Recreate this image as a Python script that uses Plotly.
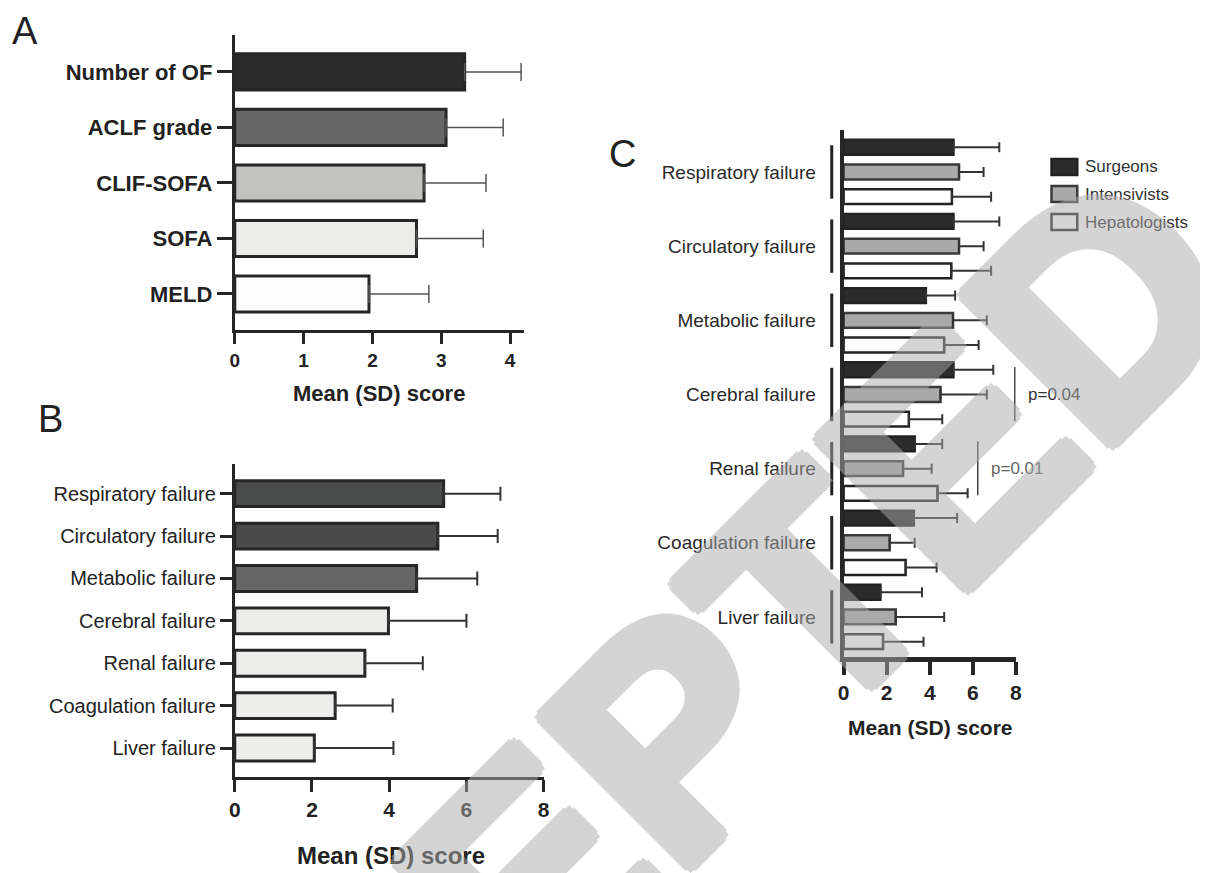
import plotly.graph_objects as go

# Figure is offset by the page's default 8px body margin
OFF = 8
W, H = 1208 - OFF, 873 - OFF

# ---------------- data ----------------
a_labels = ["Number of OF", "ACLF grade", "CLIF-SOFA", "SOFA", "MELD"]
a_mean = [3.34, 3.07, 2.75, 2.64, 1.95]
a_sd = [0.82, 0.83, 0.90, 0.97, 0.87]
a_colors = ["#2b2b2b", "#676767", "#c2c2c0", "#ececea", "#fcfcfc"]

b_labels = ["Respiratory failure", "Circulatory failure", "Metabolic failure",
            "Cerebral failure", "Renal failure", "Coagulation failure", "Liver failure"]
b_mean = [5.41, 5.26, 4.71, 3.98, 3.37, 2.60, 2.06]
b_sd = [1.47, 1.55, 1.57, 2.02, 1.50, 1.49, 2.05]
b_colors = ["#4a4b4b", "#4a4a4a", "#666666", "#ededeb", "#ededeb", "#ededeb", "#ededeb"]

c_labels = b_labels
c_groups = ["Surgeons", "Intensivists", "Hepatologists"]
surg_mean = [5.10, 5.10, 3.82, 5.10, 3.30, 3.26, 1.71]
surg_sd = [2.13, 2.13, 1.36, 1.85, 1.28, 2.01, 1.93]
int_mean = [5.36, 5.36, 5.08, 4.50, 2.76, 2.14, 2.42]
int_sd = [1.14, 1.14, 1.57, 2.15, 1.33, 1.16, 2.25]
hep_mean = [5.03, 5.00, 4.67, 3.03, 4.36, 2.88, 1.83]
hep_sd = [1.82, 1.85, 1.60, 1.55, 1.40, 1.44, 1.88]
c_colors = ["#2b2b2b", "#a9a9a9", "#ffffff"]
c_edges = ["#222222", "#3a3a3a", "#222222"]

p_labels = ["p=0.04", "p=0.01"]
p_rows = ["Cerebral failure", "Renal failure"]
p_xpos = [7.95, 6.23]
p_colors = ["#333333", "#666666"]

FONT = "Liberation Sans, Arial, sans-serif"
INK = "#262626"


def px(x):
    return (x - OFF) / W


def py(y):
    return 1 - (y - OFF) / H


fig = go.Figure()

# Panel A
fig.add_trace(go.Bar(
    orientation="h", y=a_labels, x=a_mean, width=0.65,
    marker=dict(color=a_colors, line=dict(color=INK, width=3)),
    error_x=dict(type="data", array=a_sd, arrayminus=[0] * len(a_sd), symmetric=False,
                 color="#555555", thickness=1.5, width=9),
    xaxis="x", yaxis="y", showlegend=False, hoverinfo="skip"))

# Panel B
fig.add_trace(go.Bar(
    orientation="h", y=b_labels, x=b_mean, width=0.61,
    marker=dict(color=b_colors, line=dict(color=INK, width=3)),
    error_x=dict(type="data", array=b_sd, arrayminus=[0] * len(b_sd), symmetric=False,
                 color="#333333", thickness=2, width=7),
    xaxis="x2", yaxis="y2", showlegend=False, hoverinfo="skip"))

# Panel C
c_means = [surg_mean, int_mean, hep_mean]
c_sds = [surg_sd, int_sd, hep_sd]
bw = 0.2
for k, (name, m, s, col, ec) in enumerate(zip(c_groups, c_means, c_sds, c_colors, c_edges)):
    fig.add_trace(go.Bar(
        orientation="h", y=c_labels, x=m, width=bw, offset=(k - 1) / 3 - bw / 2,
        name=name, showlegend=False,
        marker=dict(color=col, line=dict(color=ec, width=2.5)),
        error_x=dict(type="data", array=s, arrayminus=[0] * len(s), symmetric=False,
                     color="#333333", thickness=2, width=5),
        xaxis="x3", yaxis="y3", hoverinfo="skip"))

common_x = dict(showgrid=False, zeroline=False, showline=True, linecolor=INK,
                ticks="outside", tickcolor=INK, fixedrange=True)
common_y = dict(showgrid=False, zeroline=False, showline=True, linecolor=INK,
                type="category", fixedrange=True)

fig.update_layout(
    width=W, height=H, margin=dict(l=0, r=0, t=0, b=0),
    paper_bgcolor="white", plot_bgcolor="rgba(0,0,0,0)",
    barmode="overlay", showlegend=False,
    font=dict(family=FONT, color="#222222"),
    xaxis=dict(domain=[px(231), px(523)], range=[0, 4.2], tickvals=[0, 1, 2, 3, 4],
               linewidth=3, tickwidth=3, ticklen=11, anchor="y",
               tickfont=dict(size=19, weight="bold", color="#222"), **common_x),
    yaxis=dict(domain=[py(330), py(35)], range=[4.65, -0.665], categoryarray=a_labels,
               categoryorder="array", linewidth=3, ticks="outside", tickwidth=3, ticklen=15,
               tickcolor=INK, anchor="x",
               tickfont=dict(size=22, weight="bold", color="#222"), **common_y),
    xaxis2=dict(domain=[px(231), px(543)], range=[0, 8], tickvals=[0, 2, 4, 6, 8],
                linewidth=3, tickwidth=3, ticklen=12, anchor="y2",
                tickfont=dict(size=21, weight="bold", color="#222"), **common_x),
    yaxis2=dict(domain=[py(777), py(464)], range=[6.684, -0.70], categoryarray=b_labels,
                categoryorder="array", linewidth=3, ticks="outside", tickwidth=3, ticklen=12,
                tickcolor=INK, anchor="x2",
                tickfont=dict(size=20, color="#222"), **common_y),
    xaxis3=dict(domain=[px(846), px(1020)], range=[0, 8], tickvals=[0, 2, 4, 6, 8],
                linewidth=5, tickwidth=4, ticklen=13, anchor="y3",
                tickfont=dict(size=21, weight="bold", color="#222"), **common_x),
    yaxis3=dict(domain=[py(657), py(130)], range=[6.54, -0.566], categoryarray=c_labels,
                categoryorder="array", linewidth=4, ticks="", anchor="x3",
                ticklabelstandoff=20,
                tickfont=dict(size=19, color="#2a2a2a"), **common_y),
)

annotations = [
    dict(text="A", x=px(19), y=py(31), xanchor="center", font=dict(size=38, color="#222")),
    dict(text="B", x=px(45), y=py(419), xanchor="center", font=dict(size=38, color="#222")),
    dict(text="C", x=px(623), y=py(154), xanchor="center", font=dict(size=38, color="#222")),
    dict(text="<b>Mean (SD) score</b>", x=px(377), y=py(393), xanchor="center",
         font=dict(size=22, color="#222")),
    dict(text="<b>Mean (SD) score</b>", x=px(389), y=py(855), xanchor="center",
         font=dict(size=24, color="#222")),
    dict(text="<b>Mean (SD) score</b>", x=px(934), y=py(727), xanchor="center",
         font=dict(size=21, color="#222")),
]
for a in annotations:
    a.update(xref="paper", yref="paper", yanchor="middle", showarrow=False)
    fig.add_annotation(**a)

for lab, row, xv, pc in zip(p_labels, p_rows, p_xpos, p_colors):
    fig.add_shape(type="line", xref="x3", yref="y3", x0=xv, x1=xv,
                  y0=c_labels.index(row) - 0.37, y1=c_labels.index(row) + 0.36,
                  line=dict(color="#444444", width=1.5))
    fig.add_annotation(text=lab, xref="x3 domain", yref="y3", x=(xv + 0.5) / 8, y=row,
                       xanchor="left", yanchor="middle", showarrow=False,
                       font=dict(size=17, color=pc))

# group brackets to the left of panel C's axis
for i in range(len(c_labels)):
    fig.add_shape(type="line", xref="paper", yref="y3", x0=px(834), x1=px(834),
                  y0=i - 0.36, y1=i + 0.36, line=dict(color="#222222", width=3))

# legend for panel C (swatch + label)
leg_y = [167, 194, 222]
for name, col, ec, yy in zip(c_groups, c_colors, c_edges, leg_y):
    fig.add_shape(type="rect", xref="paper", yref="paper",
                  x0=px(1056), x1=px(1082), y0=py(yy - 8), y1=py(yy + 8),
                  fillcolor=col, line=dict(color=ec, width=2.5))
    fig.add_annotation(text=name, xref="paper", yref="paper", x=px(1088), y=py(yy),
                       xanchor="left", yanchor="middle", showarrow=False,
                       font=dict(size=17, color="#333333"))

# diagonal "ACCEPTED" watermark (heavy letters, half transparent)
wm = "rgb(170,170,170)"
sh = ", ".join(f"{dx}px {dy}px 0 {wm}" for dx, dy in
               [(7, 0), (-7, 0), (0, 7), (0, -7), (5, 5), (-5, -5), (5, -5), (-5, 5)])
fig.add_annotation(text="<b>ACCEPTED</b>", xref="paper", yref="paper",
                   x=px(582), y=py(823), xanchor="center", yanchor="middle",
                   textangle=-45, showarrow=False, opacity=0.5,
                   font=dict(family=FONT, size=307, color=wm, shadow=sh))

fig.write_html("out.html")
